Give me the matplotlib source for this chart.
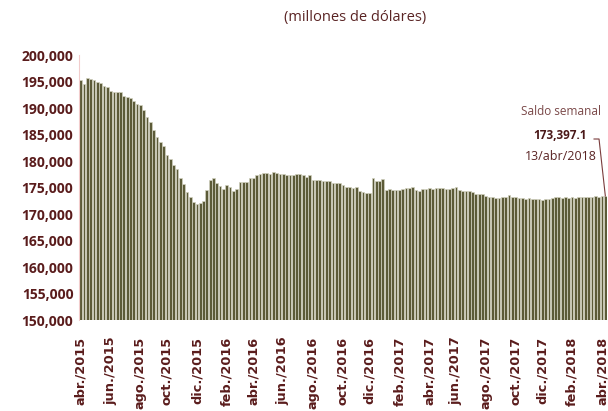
import numpy as np
import pandas as pd
import matplotlib
matplotlib.use('Agg')
import matplotlib.pyplot as plt

# saldo semanal, millones de dolares (viernes, 3/abr/2015 - 13/abr/2018)
fechas = pd.date_range('2015-04-03', '2018-04-13', freq='W-FRI')

saldo_2015a = [195.2, 194.5, 195.7, 195.4, 195.2, 195.0, 194.8, 194.2, 193.9, 193.2,
               193.1, 193.1, 193.1, 192.2, 192.1, 191.9, 191.4, 190.7, 190.6, 189.6,
               188.3, 187.3, 185.8, 184.5, 183.6, 182.8, 181.2, 180.4, 179.3]
saldo_2015b = [178.4, 176.8, 175.6, 174.1, 173.2, 172.2, 171.8, 172.0, 172.4, 174.6,
               176.4, 176.7, 175.8, 175.3, 174.8, 175.4, 175.1, 174.3, 174.8, 176.1,
               176.1, 176.1, 176.8, 176.7, 177.3, 177.6, 177.8, 177.8, 177.6, 177.9,
               177.8, 177.6, 177.6]
saldo_2016 = [177.4, 177.3, 177.4, 177.6, 177.6, 177.3, 177.0, 177.4, 176.5, 176.5,
              176.5, 176.3, 176.3, 176.2, 175.9, 175.9, 175.9, 175.4, 175.1, 175.1,
              174.9, 175.1, 174.4, 174.2, 174.0, 174.0, 176.7, 176.2, 176.2, 176.6]
saldo_2017 = [174.6, 174.8, 174.6, 174.6, 174.6, 174.8, 174.9, 174.9, 175.1, 174.6,
              174.3, 174.8, 174.8, 174.9, 174.8, 174.9, 174.9, 174.9, 174.8, 174.8,
              174.9, 175.1, 174.6, 174.3, 174.3, 174.3, 174.1, 173.8, 173.8, 173.8,
              173.4, 173.2, 173.2, 173.0]
saldo_2018 = [173.1, 173.2, 173.3, 173.5, 173.3, 173.2, 173.0, 173.1, 172.9, 173.0,
              172.9, 172.8, 172.8, 172.7, 172.8, 172.9, 173.0, 173.2, 173.3, 173.1,
              173.3, 173.0, 173.2, 173.1, 173.3, 173.2, 173.2, 173.3, 173.2, 173.4,
              173.3, 173.4, 173.3971]

saldo = np.array(saldo_2015a + saldo_2015b + saldo_2016 + saldo_2017 + saldo_2018) * 1000
n = min(len(fechas), len(saldo))
fechas = fechas[:n]
saldo = saldo[:n]

meses = {2: 'feb.', 4: 'abr.', 6: 'jun.', 8: 'ago.', 10: 'oct.', 12: 'dic.'}
ticks, labels = [], []
for i, d in enumerate(fechas):
    if d.month in meses and (i == 0 or fechas[i - 1].month != d.month):
        ticks.append(i)
        labels.append(f'{meses[d.month]}/{d.year}')

txt = '#5a1c1c'

fig = plt.figure(figsize=(6.08, 4.11), dpi=100)
ax = fig.add_axes([79 / 608, 1 - 320 / 411, 528 / 608, 265 / 411])
x = np.arange(n)
ax.bar(x, saldo, width=0.82, color='#5c5b38', edgecolor='#d2d2c0', linewidth=0.5)
ax.set_ylim(150000, 200000)
ax.set_xlim(-0.5, n - 0.5)
ax.set_yticks(np.arange(150000, 200001, 5000))
ax.set_yticklabels([f'{v:,}' for v in range(150000, 200001, 5000)],
                   fontsize=10, fontweight='bold', color=txt, family='Open Sans')
ax.set_xticks(ticks)
ax.set_xticklabels(labels, rotation=90, fontsize=9.3, fontweight='bold', color=txt,
                   family='DejaVu Sans', va='top')
ax.tick_params(length=0, pad=4)
ax.tick_params(axis='x', pad=12)
for s in ['top', 'right', 'bottom']:
    ax.spines[s].set_visible(False)
ax.spines['left'].set_color('#f2cccc')
ax.spines['left'].set_linewidth(0.8)

fig.text(355 / 608, 1 - 18 / 411, '(millones de dólares)', ha='center', va='center',
         fontsize=10.5, color='#5a2424', family='Open Sans')

# nota del ultimo dato
xc = n - 14.5
last = saldo[-1]
ax.text(xc, 189300, 'Saldo semanal', ha='center', va='center', fontsize=8.5,
        color='#7a4848', family='Open Sans')
ax.text(xc, 184800, f'{last:,.1f}', ha='center', va='center', fontsize=8.5,
        fontweight='bold', color='#4a1818', family='Open Sans')
ax.text(xc, 180800, '13/abr/2018', ha='center', va='center', fontsize=9,
        color='#5a2424', family='Open Sans')
ax.plot([n - 4.4, n - 2.9, n - 1], [184150, 184150, last], color='#7a3c3c',
        linewidth=0.8, clip_on=False)

fig.savefig('out.png', dpi=100)
